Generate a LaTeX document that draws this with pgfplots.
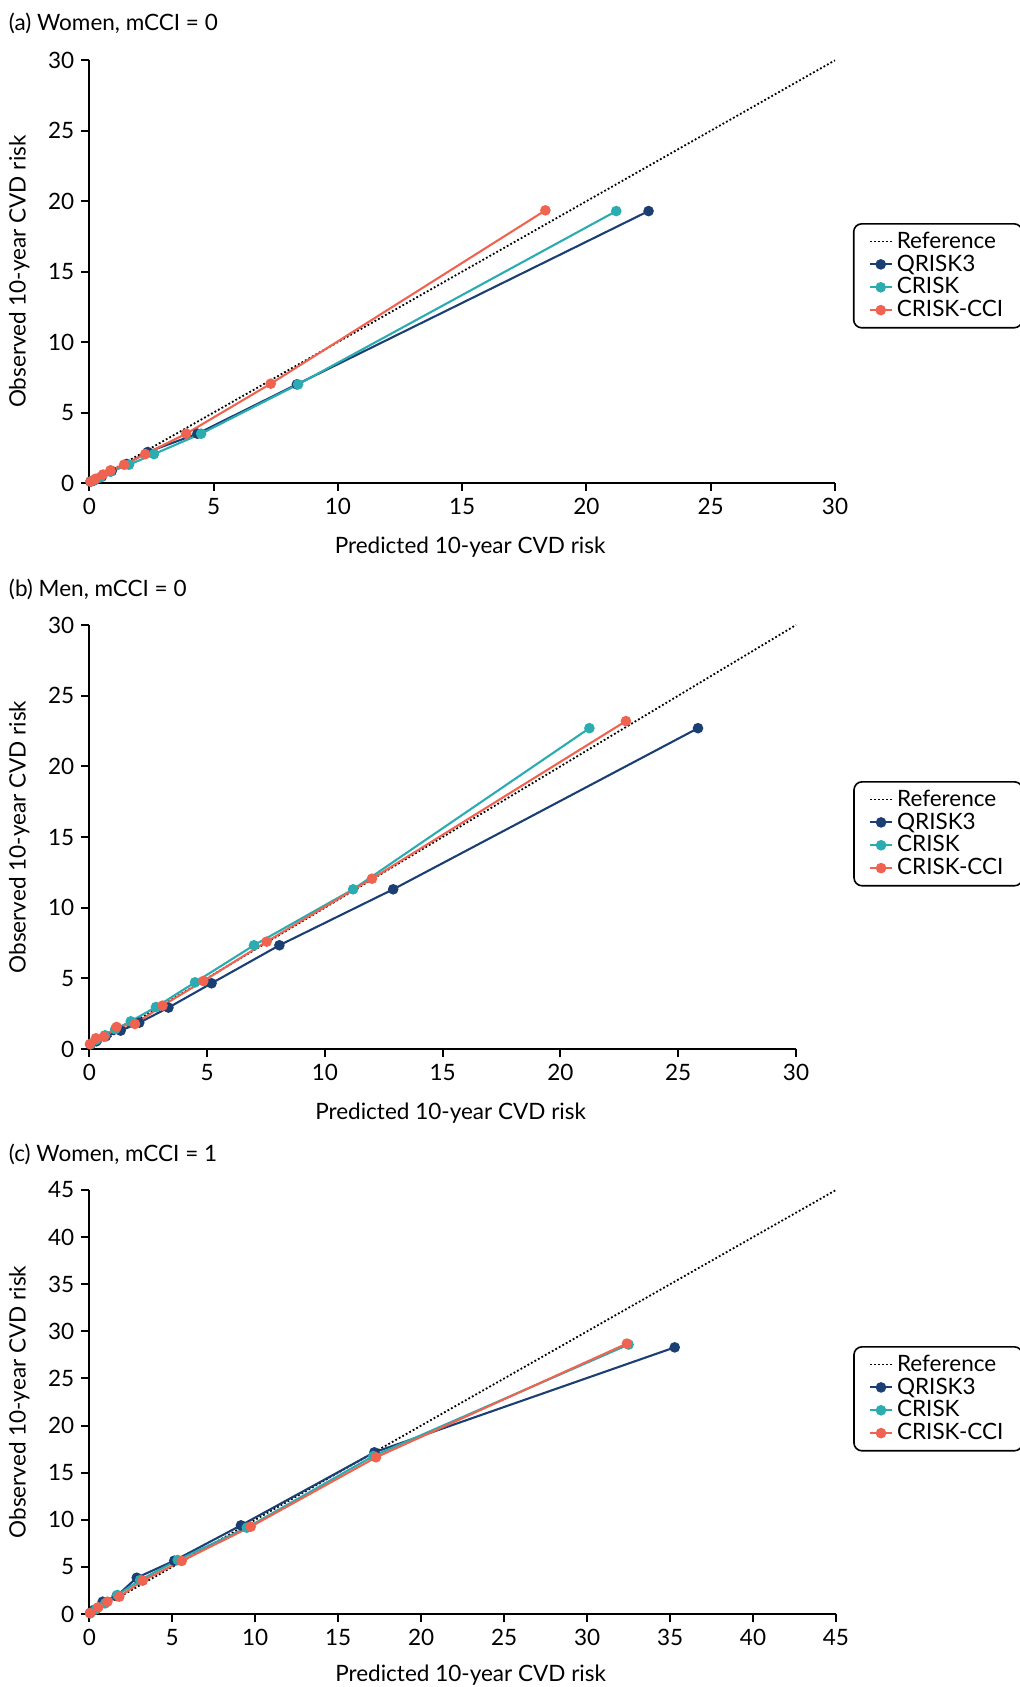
\documentclass[border=0pt]{standalone}
\usepackage{fontspec}
\setmainfont{Lato}
\usepackage{pgfplots}
\pgfplotsset{compat=1.18}
\definecolor{qnavy}{HTML}{1C3F73}
\definecolor{cteal}{HTML}{2BACB1}
\definecolor{ccred}{HTML}{EF6350}
\newcommand{\fs}{\fontsize{11.3}{13.4}\selectfont}
\pgfplotsset{
 calib/.style={
  scale only axis, axis lines=left, axis line style={-, line width=1bp},
  tick align=outside, major tick length=4bp, tick style={line width=1bp, black},
  xmin=0, ymin=0, clip=false,
  /pgf/number format/assume math mode=true,
  tick label style={font=\fs},
  xlabel={Predicted 10-year CVD risk}, ylabel={Observed 10-year CVD risk},
  every axis y label/.style={at={(axis description cs:0,0.5)}, xshift=-35bp, rotate=90, anchor=center, font=\fs},
  every axis x label/.style={at={(axis description cs:0.5,0)}, anchor=center, yshift=-32bp, xshift=4bp, font=\fs},
  legend cell align=left,
  legend style={anchor=north west, draw=black, rounded corners=4bp, line width=0.8bp, font=\fs, inner xsep=7.5bp, inner ysep=2bp, row sep=-2.2bp},
  legend image code/.code={\draw[mark repeat=2,mark phase=2,#1] plot coordinates {(0bp,0bp) (5.5bp,0bp) (11bp,0bp)};},
  refl/.style={black, line width=0.9bp, dash pattern=on 0.9bp off 1.1bp, mark=none},
  q3/.style={qnavy, line width=1.05bp, mark=*, mark size=2.1bp, mark options={solid}},
  cr/.style={cteal, line width=1.05bp, mark=*, mark size=2.1bp, mark options={solid}},
  cc/.style={ccred, line width=1.05bp, mark=*, mark size=2.1bp, mark options={solid}},
 }
}
\begin{document}
\begin{tikzpicture}
\useasboundingbox (0,0) rectangle (510bp,-843.5bp);
% ---- (a)
\node[anchor=west, font=\fs, inner sep=0pt] at (4.3bp,-11.8bp) {(a) Women, mCCI = 0};
\begin{axis}[calib, at={(44.65bp,-241.5bp)}, anchor=south west,
  width=372.85bp, height=211.35bp, xmax=30, ymax=30,
  xtick={0,5,...,30}, ytick={0,5,...,30},
  legend style={at={(axis description cs:1.024,0.615)}}]
\addplot[refl] coordinates {(0,0) (30,30)};
\addplot[q3] coordinates {(0.05,0.1) (0.15,0.15) (0.25,0.25) (0.5,0.45) (0.9,0.85) (1.5,1.35) (2.35,2.2) (4.35,3.5) (8.35,7.0) (22.5,19.3)};
\addplot[cr] coordinates {(0.05,0.1) (0.2,0.2) (0.45,0.4) (0.85,0.8) (1.6,1.3) (2.6,2.05) (4.5,3.5) (8.4,7.0) (21.2,19.3)};
\addplot[cc] coordinates {(0.05,0.1) (0.25,0.3) (0.55,0.6) (0.85,0.9) (1.4,1.3) (2.25,2.05) (3.9,3.5) (7.3,7.05) (18.35,19.35)};
\legend{Reference, QRISK3, CRISK, CRISK-CCI}
\end{axis}
% ---- (b)
\node[anchor=west, font=\fs, inner sep=0pt] at (4.3bp,-294.8bp) {(b) Men, mCCI = 0};
\begin{axis}[calib, at={(44.65bp,-524.5bp)}, anchor=south west,
  width=353.35bp, height=212bp, xmax=30, ymax=30,
  xtick={0,5,...,30}, ytick={0,5,...,30},
  legend style={at={(axis description cs:1.081,0.632)}}]
\addplot[refl] coordinates {(0,0) (30,30)};
\addplot[q3] coordinates {(0.05,0.3) (0.3,0.55) (0.7,0.9) (1.33,1.3) (2.12,1.86) (3.36,2.93) (5.19,4.65) (8.07,7.34) (12.9,11.3) (25.84,22.7)};
\addplot[cr] coordinates {(0.05,0.35) (0.3,0.65) (0.67,0.97) (1.1,1.4) (1.76,1.96) (2.83,2.97) (4.49,4.72) (6.99,7.34) (11.2,11.3) (21.23,22.7)};
\addplot[cc] coordinates {(0.03,0.35) (0.28,0.76) (0.62,0.87) (1.16,1.56) (1.94,1.77) (3.11,3.07) (4.84,4.81) (7.53,7.6) (12.0,12.05) (22.78,23.2)};
\legend{Reference, QRISK3, CRISK, CRISK-CCI}
\end{axis}
% ---- (c)
\node[anchor=west, font=\fs, inner sep=0pt] at (4.3bp,-577.3bp) {(c) Women, mCCI = 1};
\begin{axis}[calib, at={(44.65bp,-807bp)}, anchor=south west,
  width=373.35bp, height=212bp, xmax=45, ymax=45,
  xtick={0,5,...,45}, ytick={0,5,...,45},
  every axis x label/.append style={yshift=1.2bp},
  legend style={at={(axis description cs:1.023,0.632)}}]
\addplot[refl] coordinates {(0,0) (45,45)};
\addplot[q3] coordinates {(0.05,0.1) (0.3,0.45) (0.81,1.31) (1.65,1.91) (2.86,3.85) (5.12,5.66) (9.14,9.41) (17.18,17.16) (35.28,28.3)};
\addplot[cr] coordinates {(0.05,0.1) (0.4,0.5) (0.95,1.13) (1.69,2.02) (3.06,3.6) (5.33,5.73) (9.49,9.16) (17.12,16.77) (32.5,28.6)};
\addplot[cc] coordinates {(0.05,0.1) (0.54,0.71) (1.09,1.31) (1.81,1.84) (3.22,3.54) (5.57,5.63) (9.73,9.27) (17.28,16.63) (32.4,28.7)};
\legend{Reference, QRISK3, CRISK, CRISK-CCI}
\end{axis}
\end{tikzpicture}
\end{document}
